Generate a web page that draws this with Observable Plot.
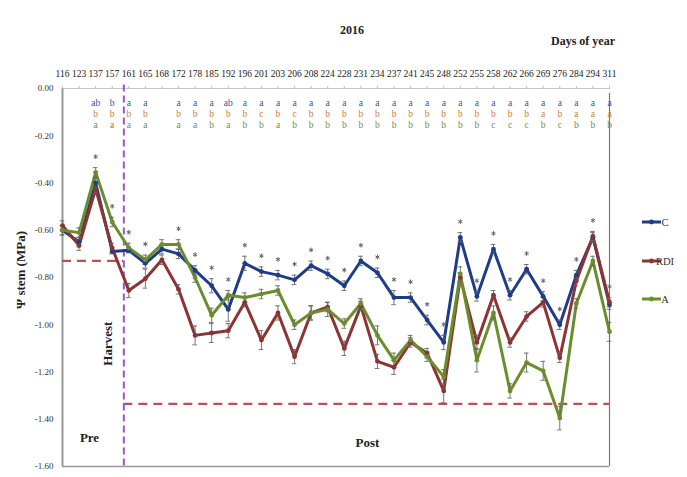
<!DOCTYPE html>
<html><head><meta charset="utf-8">
<script src="https://cdn.jsdelivr.net/npm/d3@7"></script>
<script src="https://cdn.jsdelivr.net/npm/@observablehq/plot@0.6"></script>
<style>
body{margin:0;background:#fff;}
#chart{position:relative;width:687px;height:477px;overflow:hidden;}
</style></head><body><div id="chart"></div>
<script>
// ---- data ----
const days = [116,123,137,157,161,165,168,172,178,185,192,196,201,203,206,208,224,228,231,234,237,241,245,248,252,255,258,262,266,269,276,284,294,311];
const seriesNames = ["C","RDI","A"];
const valC   = [-0.60,-0.65,-0.40,-0.69,-0.685,-0.74,-0.68,-0.70,-0.77,-0.835,-0.935,-0.74,-0.775,-0.79,-0.81,-0.75,-0.785,-0.835,-0.73,-0.78,-0.885,-0.885,-0.98,-1.075,-0.63,-0.88,-0.68,-0.875,-0.765,-0.88,-1.00,-0.79,-0.63,-0.915];
const valRDI = [-0.58,-0.665,-0.425,-0.675,-0.855,-0.805,-0.725,-0.85,-1.045,-1.035,-1.025,-0.905,-1.065,-0.95,-1.135,-0.95,-0.925,-1.10,-0.92,-1.155,-1.18,-1.075,-1.12,-1.28,-0.80,-1.075,-0.875,-1.075,-0.965,-0.905,-1.14,-0.815,-0.625,-0.905];
const valA   = [-0.60,-0.61,-0.355,-0.565,-0.675,-0.725,-0.66,-0.66,-0.80,-0.96,-0.875,-0.885,-0.87,-0.855,-1.00,-0.95,-0.935,-0.995,-0.91,-1.045,-1.15,-1.065,-1.135,-1.22,-0.785,-1.15,-0.95,-1.28,-1.16,-1.195,-1.395,-0.91,-0.73,-1.03];
const errC   = [0.02,0.02,0.02,0.01,0.01,0.02,0.02,0.02,0.02,0.03,0.05,0.03,0.02,0.02,0.02,0.02,0.02,0.02,0.02,0.02,0.03,0.02,0.02,0.03,0.02,0.02,0.02,0.02,0.02,0.02,0.02,0.02,0.02,0.02];
const errRDI = [0.02,0.02,0.02,0.02,0.03,0.04,0.02,0.02,0.04,0.04,0.03,0.02,0.04,0.03,0.03,0.03,0.02,0.03,0.02,0.03,0.03,0.02,0.02,0.05,0.02,0.03,0.02,0.02,0.02,0.02,0.02,0.02,0.02,0.02];
const errA   = [0.02,0.02,0.02,0.02,0.02,0.02,0.02,0.02,0.02,0.03,0.02,0.02,0.02,0.02,0.02,0.03,0.03,0.02,0.02,0.04,0.03,0.02,0.02,0.03,0.03,0.05,0.03,0.03,0.04,0.04,0.05,0.02,0.02,0.04];
const lettersC   = ["","","ab","b","a","a","","a","a","a","ab","a","a","a","a","a","a","a","a","a","a","a","a","a","a","a","a","a","a","a","a","a","a","a"];
const lettersRDI = ["","","b","b","b","b","","b","b","b","b","b","c","b","c","b","b","b","b","b","b","b","b","b","b","b","b","b","b","a","b","a","a","a"];
const lettersA   = ["","","a","a","a","a","","a","a","b","a","b","b","a","b","b","b","b","b","b","b","b","b","b","b","b","c","c","c","b","c","b","b","b"];
const sigDays = [137,157,161,165,172,178,185,192,196,201,203,206,208,224,228,231,234,237,241,245,248,252,255,258,262,266,269,276,284,294,311];
const yTicks = [0,-0.2,-0.4,-0.6,-0.8,-1.0,-1.2,-1.4,-1.6];
const harvestPos = 3.7;          // between day 157 and 161 (category index units)
const preThreshold = -0.73;
const postThreshold = -1.335;
const colors = {C:"#1f3c88", RDI:"#8c3434", A:"#6b8e2c"};
const letterColors = ["#34569e","#cf7a3a","#718f45"];

// ---- tables ----
const vals = {C:valC, RDI:valRDI, A:valA};
const errs = {C:errC, RDI:errRDI, A:errA};
const rows = [];
seriesNames.forEach(s => days.forEach((d,i) => rows.push({series:s, i, day:d, v:vals[s][i], e:errs[s][i]})));
const letterSets = [lettersC, lettersRDI, lettersA].map(arr => arr.map((t,i) => ({i, t})).filter(d => d.t));
const sig = sigDays.map(d => {
  const i = days.indexOf(d);
  const top = d3.max(seriesNames, s => vals[s][i] + errs[s][i]);
  return {i, top};
});
const idx = days.map((d,i) => i);
const last = days.length - 1;

const W = 687, H = 477;
const plot = Plot.plot({
  width: W, height: H,
  marginLeft: 62, marginRight: 78, marginTop: 88, marginBottom: 11,
  style: {fontFamily: "'Liberation Serif', serif", fontSize: "9.5px", background: "#fff", color: "#222", overflow: "visible"},
  x: {domain: [0, last], axis: null},
  y: {domain: [-1.6, 0], axis: null},
  color: {domain: seriesNames, range: seriesNames.map(s => colors[s])},
  marks: [
    Plot.ruleY([0], {stroke: "#c8c8c8", strokeWidth: 1}),
    Plot.ruleY([-1.6], {stroke: "#999", strokeWidth: 1.5}),
    Plot.ruleX([last], {stroke: "#777", strokeWidth: 1.2, y1: -0.02, y2: -1.6}),
    Plot.ruleX([0], {stroke: "#999", strokeWidth: 2}),
    Plot.axisX({anchor: "top", ticks: idx, tickFormat: i => days[i], tickSize: 3, tickPadding: 9, stroke: "#bbb", fill: "#222", fontSize: 9.5, label: null}),
    Plot.axisY({ticks: yTicks, tickFormat: d => d.toFixed(2), tickSize: 0, tickPadding: 9, fontSize: 9, fill: "#333", label: null}),
    Plot.ruleY([preThreshold], {x1: 0, x2: harvestPos, stroke: "#c0504d", strokeWidth: 2.2, strokeDasharray: "9,6"}),
    Plot.ruleY([postThreshold], {x1: harvestPos, x2: last, stroke: "#c0504d", strokeWidth: 2.2, strokeDasharray: "9,6"}),
    Plot.ruleX([harvestPos], {stroke: "#9b55d4", strokeWidth: 2, strokeDasharray: "7,4", y1: 0.015, y2: -1.6}),
    Plot.line(rows, {x: "i", y: "v", z: "series", stroke: "series", strokeWidth: 3}),
    Plot.ruleX(rows, {x: "i", y1: d => d.v - d.e, y2: d => d.v + d.e, stroke: "#666", strokeWidth: 0.9}),
    Plot.ruleY(rows, {y: d => d.v - d.e, x1: d => d.i - 0.14, x2: d => d.i + 0.14, stroke: "#666", strokeWidth: 0.9}),
    Plot.ruleY(rows, {y: d => d.v + d.e, x1: d => d.i - 0.14, x2: d => d.i + 0.14, stroke: "#666", strokeWidth: 0.9}),
    Plot.dot(rows, {x: "i", y: "v", fill: "series", r: 2.4}),
    Plot.dot(sig, {x: "i", y: "top", symbol: "asterisk", r: 2.2, stroke: "#666", strokeWidth: 1, dy: -11}),
    Plot.text(letterSets[0], {x: "i", text: "t", frameAnchor: "top", dy: 11, fill: letterColors[0], fontSize: 9.5}),
    Plot.text(letterSets[1], {x: "i", text: "t", frameAnchor: "top", dy: 22, fill: letterColors[1], fontSize: 9.5}),
    Plot.text(letterSets[2], {x: "i", text: "t", frameAnchor: "top", dy: 33, fill: letterColors[2], fontSize: 9.5}),
    Plot.text(["Harvest"], {x: harvestPos - 0.95, y: -1.08, rotate: -90, fontWeight: "bold", fontSize: 13, fill: "#222"}),
    Plot.text(["Pre"], {x: 1.63, y: -1.478, fontWeight: "bold", fontSize: 13, fill: "#222"}),
    Plot.text(["Post"], {x: 18.4, y: -1.5, fontWeight: "bold", fontSize: 13, fill: "#222"})
  ]
});
document.getElementById("chart").appendChild(plot);

// outer annotations and legend
const svg = d3.select(plot);
const F = "'Liberation Serif', serif";
svg.append("text").attr("x", 352).attr("y", 34).attr("text-anchor", "middle").attr("font-family", F)
  .attr("font-weight", "bold").attr("font-size", 12).attr("fill", "#222").text("2016");
svg.append("text").attr("x", 583).attr("y", 45).attr("text-anchor", "middle").attr("font-family", F)
  .attr("font-weight", "bold").attr("font-size", 12).attr("fill", "#222").text("Days of year");
svg.append("text").attr("transform", "translate(25,270) rotate(-90)").attr("text-anchor", "middle").attr("font-family", F)
  .attr("font-weight", "bold").attr("font-size", 13).attr("fill", "#222").text("Ψ stem (MPa)");
const legY = {C: 222, RDI: 261, A: 299};
seriesNames.forEach(s => {
  const g = svg.append("g");
  g.append("line").attr("x1", 642).attr("x2", 661).attr("y1", legY[s]).attr("y2", legY[s]).attr("stroke", colors[s]).attr("stroke-width", 3);
  g.append("circle").attr("cx", 651.5).attr("cy", legY[s]).attr("r", 2.4).attr("fill", colors[s]);
  g.append("text").attr("x", 665).attr("y", legY[s] + 4).attr("font-family", F).attr("font-size", 10.5).attr("fill", "#333").text(s);
});
</script></body></html>
